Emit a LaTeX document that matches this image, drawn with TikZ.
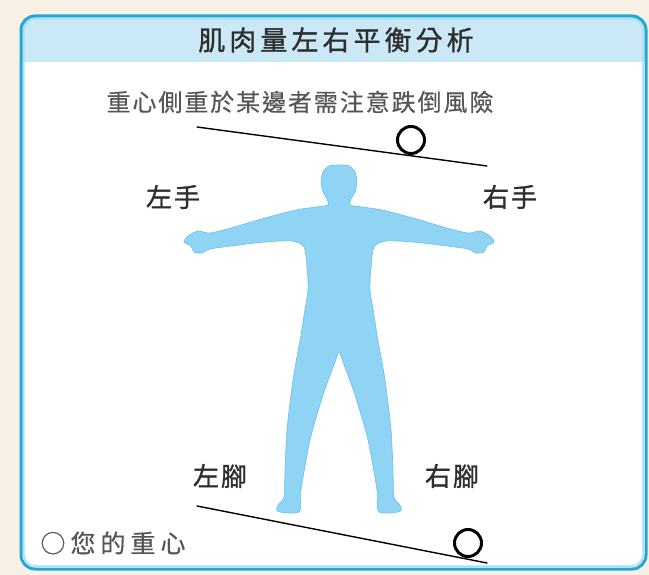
\documentclass[tikz,border=0pt]{standalone}
\usepackage{fontspec}
\setmainfont{Noto Sans CJK TC}
\newfontfamily\titlefont{Noto Sans CJK TC}[LetterSpace=15, FakeBold=1.2]
\newfontfamily\subfont{Noto Sans CJK TC}[LetterSpace=8, FakeBold=0.4]
\newfontfamily\lblfont{Noto Sans CJK TC}[LetterSpace=8, FakeBold=1.2]
\newfontfamily\keyfont{Noto Sans CJK TC}[LetterSpace=20, FakeBold=0.4]

\definecolor{paper}{HTML}{F7F0E4}
\definecolor{frame}{HTML}{22A8D8}
\definecolor{frameglow}{HTML}{A8E0F4}
\definecolor{band}{HTML}{CBE8F7}
\definecolor{bodyfill}{HTML}{8FD3F5}
\definecolor{bodyedge}{HTML}{6CC0EA}
\definecolor{inkdark}{HTML}{2E2E2E}
\definecolor{inkgray}{HTML}{555555}

\tikzset{
  seesaw/.style={line width=1.4pt, black, line cap=round},
  ball/.style={circle, draw=black, line width=3pt, minimum size=27pt, inner sep=0pt},
  headline/.style={inner sep=0pt, text=inkdark, font=\titlefont\fontsize{27pt}{31pt}\selectfont},
  subline/.style={inner sep=0pt, text=inkgray, font=\subfont\fontsize{24pt}{28pt}\selectfont},
  limb/.style={inner sep=0pt, text=inkdark, font=\lblfont\fontsize{26pt}{30pt}\selectfont},
  keytext/.style={inner sep=0pt, text=inkgray, font=\keyfont\fontsize{25pt}{29pt}\selectfont},
}

\begin{document}
\begin{tikzpicture}[x=1pt, y=-1pt]
  % page and background
  \useasboundingbox (0,0) rectangle (649,575);
  \fill[paper] (0,0) rectangle (649,575);

  % framed panel with a tinted heading band
  \fill[white, rounded corners=14pt] (21,16) rectangle (646,569);
  \begin{scope}
    \clip[rounded corners=14pt] (21,16) rectangle (646,569);
    \fill[band] (21,16) rectangle (646,62);
  \end{scope}
  \draw[frameglow, line width=1.5pt, rounded corners=12pt] (23.8,18.8) rectangle (643.2,566.2);
  \draw[frame, line width=3pt, rounded corners=14pt] (21,16) rectangle (646,569);

  % heading and note
  \node[headline] (title) at (336,40) {肌肉量左右平衡分析};
  \node[subline] (note) at (300,102) {重心側重於某邊者需注意跌倒風險};

  % upper seesaw (hands)
  \coordinate (hl) at (197,127);
  \coordinate (hr) at (487,166);
  \draw[seesaw] (hl) -- (hr);
  \node[ball] (handball) at (411,140) {};

  % body silhouette
  \fill[bodyfill, draw=bodyedge, line width=0.6pt]
    plot[smooth cycle, tension=0.45] coordinates {
      (339,165) (349,166) (355,172) (357,182) (355,192) (351,199) (350,205)
      (362,207) (382,210) (413,218) (447,228) (468,233) (480,231) (490,236)
      (494,242) (487,246) (484,252) (476,253) (468,249) (447,246) (413,242)
      (386,241) (374,247) (371,268) (370,290) (374,315) (377,335) (385,380)
      (391,430) (393,470) (394,497) (400,505) (401,511) (390,513) (379,512)
      (377,503) (377,490) (368,440) (355,395) (343,362) (339,352)
      (335,362) (323,395) (310,440) (301,490) (301,503) (299,512) (288,513)
      (277,511) (278,505) (284,497) (285,470) (287,430) (293,380) (301,335)
      (304,315) (308,290) (307,268) (304,247) (292,241) (265,242) (231,246)
      (210,249) (202,253) (194,252) (191,246) (184,242) (188,236) (198,231)
      (210,233) (231,228) (265,218) (296,210) (316,207) (328,205) (327,199)
      (323,192) (321,182) (323,172) (329,166)
    };

  % limb labels
  \node[limb] (lhand) at (173,197) {左手};
  \node[limb] (rhand) at (510,197) {右手};
  \node[limb] (lfoot) at (220,476) {左腳};
  \node[limb] (rfoot) at (452,476) {右腳};

  % lower seesaw (feet)
  \coordinate (fl) at (197,506);
  \coordinate (fr) at (487,563);
  \draw[seesaw] (fl) -- (fr);
  \node[ball] (football) at (468,543) {};

  % key
  \node[keytext] (key) at (113,543) {○您的重心};
\end{tikzpicture}
\end{document}
